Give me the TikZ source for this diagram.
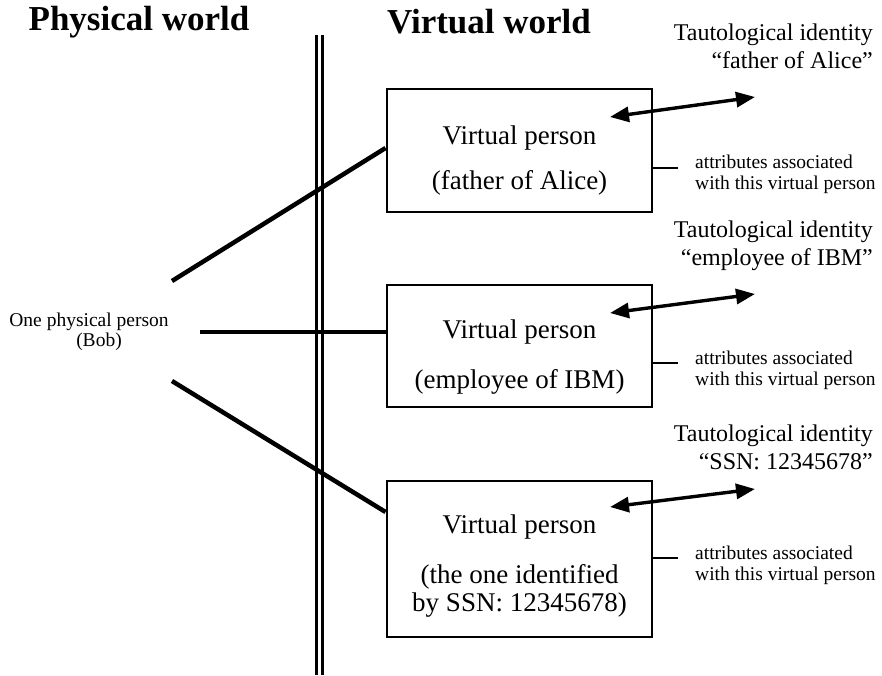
\documentclass[tikz,border=0pt]{standalone}
\usepackage{fontspec}
\setmainfont{Liberation Serif}
\usetikzlibrary{arrows.meta}

\begin{document}
\begin{tikzpicture}[x=1pt,y=-1pt,
  title/.style={font=\fontsize{35}{40}\selectfont\bfseries, inner sep=0pt},
  vbox/.style={draw, line width=2.9pt, minimum width=265pt, inner sep=0pt},
  boxtext/.style={font=\fontsize{27}{32}\selectfont, inner sep=0pt},
  tautotext/.style={font=\fontsize{24}{28}\selectfont, align=right, anchor=east, inner sep=0pt},
  attrtext/.style={font=\fontsize{19.5}{21}\selectfont, align=left, anchor=west, inner sep=0pt},
  link/.style={line width=4.5pt},
  attrline/.style={line width=2.5pt},
  identarrow/.style={line width=3.4pt, {Triangle[length=19pt,width=15pt]}-{Triangle[length=19pt,width=15pt]}},
  divider/.style={line width=3pt}
]
\useasboundingbox (0,0) rectangle (882,676);

% headings
\node[title] (phys) at (139,22) {Physical world};
\node[title] (virt) at (489,22) {Virtual world};

% border between the two worlds
\coordinate (d1t) at (316,35); \coordinate (d1b) at (316,675);
\coordinate (d2t) at (322,35); \coordinate (d2b) at (322,675);
\draw[divider] (d1t) -- (d1b);
\draw[divider] (d2t) -- (d2b);

% the physical person
\node[font=\fontsize{19.5}{20}\selectfont, align=center, inner sep=0pt] (bob) at (89,332)
  {One physical person\\\hspace*{20pt}(Bob)};

% virtual persons
\node[vbox, minimum height=123pt] (b1) at (519.5,150.5) {};
\node[vbox, minimum height=122pt] (b2) at (519.5,346) {};
\node[vbox, minimum height=156pt] (b3) at (519.5,559) {};

\node[boxtext] (b1a) at (519.5,138) {Virtual person};
\node[boxtext] (b1b) at (519.5,183) {(father of Alice)};
\node[boxtext] (b2a) at (519.5,332) {Virtual person};
\node[boxtext] (b2b) at (519.5,382) {(employee of IBM)};
\node[boxtext] (b3a) at (519.5,527) {Virtual person};
\node[boxtext] (b3b) at (519.5,577) {(the one identified};
\node[boxtext] (b3c) at (519.5,605) {by SSN: 12345678)};

% links from the physical person to each virtual person
\coordinate (l1s) at (172,281); \coordinate (l1e) at ([yshift=2.5pt]b1.west);
\coordinate (l2s) at (200,332); \coordinate (l2e) at ([yshift=14pt]b2.west);
\coordinate (l3s) at (172,381); \coordinate (l3e) at ([yshift=47pt]b3.west);
\draw[link] (l1s) -- (l1e);
\draw[link] (l2s) -- (l2e);
\draw[link] (l3s) -- (l3e);

% tautological identities
\node[tautotext] (t1) at (873,46) {Tautological identity\\“father of Alice”};
\node[tautotext] (t2) at (873,246) {Tautological identity\\“employee of IBM”};
\node[tautotext] (t3) at (873,447) {Tautological identity\\“SSN: 12345678”};

\coordinate (a1s) at (610,117); \coordinate (a1e) at (755,97);
\coordinate (a2s) at (610,313); \coordinate (a2e) at (755,294);
\coordinate (a3s) at (610,507); \coordinate (a3e) at (755,489);
\draw[identarrow] (a1s) -- (a1e);
\draw[identarrow] (a2s) -- (a2e);
\draw[identarrow] (a3s) -- (a3e);

% attributes
\node[attrtext] (at1) at (695,174) {attributes associated\\with this virtual person};
\node[attrtext] (at2) at (695,370) {attributes associated\\with this virtual person};
\node[attrtext] (at3) at (695,565) {attributes associated\\with this virtual person};

\coordinate (r1) at ([yshift=-17.5pt]b1.east); \coordinate (r1e) at (678,168);
\coordinate (r2) at ([yshift=-17pt]b2.east);   \coordinate (r2e) at (678,363);
\coordinate (r3) at ([yshift=1pt]b3.east);     \coordinate (r3e) at (678,558);
\draw[attrline] (r1) -- (r1e);
\draw[attrline] (r2) -- (r2e);
\draw[attrline] (r3) -- (r3e);
\end{tikzpicture}
\end{document}
